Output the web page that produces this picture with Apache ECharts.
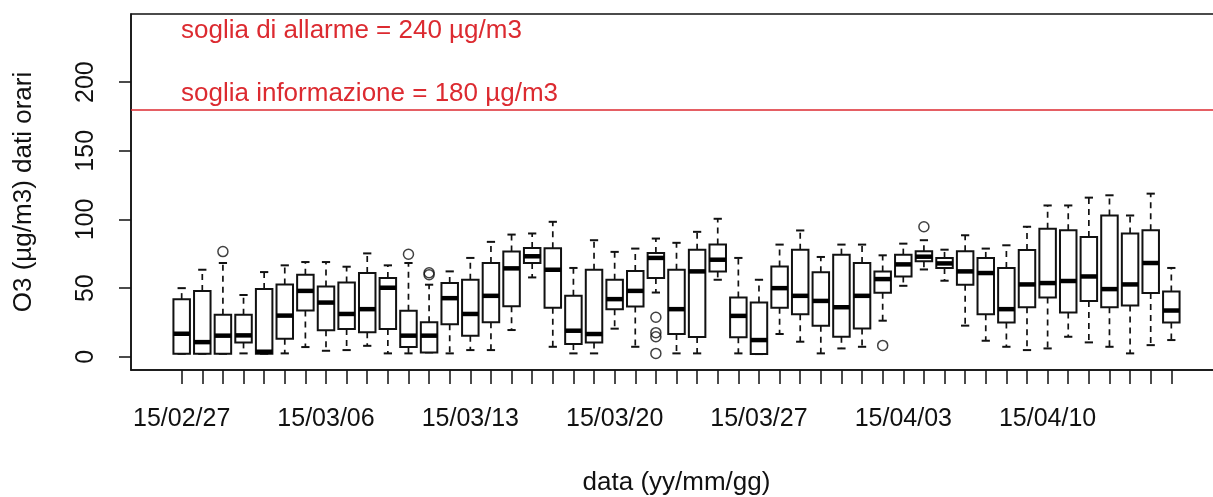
<!DOCTYPE html>
<html><head><meta charset="utf-8">
<script src="https://cdn.jsdelivr.net/npm/echarts@6/dist/echarts.min.js"></script>
<style>html,body{margin:0;padding:0;background:#fff}#c{width:1213px;height:497px}</style>
</head><body><div id="c"></div>
<script>
const dates = ['15/02/27','15/02/28','15/03/01','15/03/02','15/03/03','15/03/04','15/03/05','15/03/06','15/03/07','15/03/08',
  '15/03/09','15/03/10','15/03/11','15/03/12','15/03/13','15/03/14','15/03/15','15/03/16','15/03/17','15/03/18',
  '15/03/19','15/03/20','15/03/21','15/03/22','15/03/23','15/03/24','15/03/25','15/03/26','15/03/27','15/03/28',
  '15/03/29','15/03/30','15/03/31','15/04/01','15/04/02','15/04/03','15/04/04','15/04/05','15/04/06','15/04/07',
  '15/04/08','15/04/09','15/04/10','15/04/11','15/04/12','15/04/13','15/04/14','15/04/15','15/04/16'];
const whiskerLow = [2.2,2.2,2.2,2.5,2.2,2.5,7.1,4.4,4.9,8,2.5,2.5,3.2,2.5,4.9,4.9,19.5,57.8,7.3,2.5,
  2.5,20.5,7.3,46.8,2.5,2.5,56.1,2.5,2,16.6,11,2.5,6.1,7.3,26.3,51.7,63.6,55.4,22.7,11.7,
  7.3,4.9,6.1,14.6,10.5,7.3,2.5,8.5,12.2];
const q1 = [2.2,2.2,2.2,10.5,2.2,13.2,33.7,19.3,20.3,17.8,20.3,7.2,3.2,23.7,15.4,25.2,36.9,68.3,35.8,9.3,
  10.5,34.7,36.6,57.3,16.6,14.4,62.2,14.2,2,35.8,31,22.7,14.6,20.7,46.6,58.5,69.5,64.7,52.5,31,
  24.9,36.1,43.2,32.2,40.7,36.1,37.3,46.4,24.9];
const median = [16.8,10.7,15.4,15.6,3.7,30,48,39.5,31.2,34.7,50.3,15.4,15.4,42.7,31.2,44.4,64.4,73.2,63.4,19,
  16.6,42,48,72,34.7,62.2,70.7,29.8,12.2,50,44.4,40.7,36.1,44.4,56.6,67.3,72.9,68,62.2,61,
  34.7,52.7,53.7,55.2,58.5,49.3,52.7,68.3,33.7];
const q3 = [42,48,30.7,30.7,49.3,52.7,59.8,51.2,54.1,61,57.3,33.5,25.2,53.7,56.1,68.3,76.6,79.3,79,44.4,
  63.4,56.1,62.5,75.6,63.4,78,81.7,43.2,39.5,65.8,78,61.5,74.4,68.3,62.2,74.4,76.8,72,76.8,72,
  64.7,77.8,93.2,92.2,87.3,102.9,89.8,92.2,47.6];
const whiskerHigh = [50,63.4,68.3,45,61.7,66.6,69,69,65.6,75.3,66.6,68.3,52.5,62.2,72,83.7,89,89.8,98.3,64.7,
  84.9,76.4,78.8,86.1,83,91,100.5,72,56.1,81.7,92,72.7,81.7,81.7,73.9,82.4,84.9,78,88.5,78.8,
  81.2,94.7,110.2,110.2,115.9,117.6,102.9,118.8,64.7];
// outliers: [day number (1-based), value]
const outliers = [[3,76.6],[12,74.7],[13,59.8],[13,61.2],[24,28.8],[24,17.6],[24,14.6],[24,2.5],[35,8.3],[37,94.7]];
const yTicks = [0,50,100,150,200];
const xLabelDays = [1,8,15,22,29,36,43];
const infoThreshold = 180;
const alarmText = 'soglia di allarme = 240 µg/m3';
const infoText = 'soglia informazione = 180 µg/m3';

const FONT = 'Liberation Sans, Arial, sans-serif';
const INK = '#111';
const RED = '#dc2a30';

const dayNumbers = dates.map((d, i) => i + 1);
const boxData = dates.map((d, i) => [dayNumbers[i], whiskerLow[i], q1[i], median[i], q3[i], whiskerHigh[i]]);

function renderBox(params, api) {
  const x = api.value(0);
  const lo = api.coord([x, api.value(1)]);
  const b1 = api.coord([x, api.value(2)]);
  const md = api.coord([x, api.value(3)]);
  const b3 = api.coord([x, api.value(4)]);
  const hi = api.coord([x, api.value(5)]);
  const unit = api.size([1, 0])[0];
  const w = unit * 0.8, hw = w / 2, sw = w / 4;
  const cx = md[0];
  const dash = {stroke: INK, lineWidth: 1.7, lineDash: [6, 5]};
  const solid = {stroke: INK, lineWidth: 2};
  return {type: 'group', children: [
    {type: 'line', shape: {x1: cx, y1: b3[1], x2: cx, y2: hi[1]}, style: dash},
    {type: 'line', shape: {x1: cx, y1: b1[1], x2: cx, y2: lo[1]}, style: dash},
    {type: 'line', shape: {x1: cx - sw, y1: hi[1], x2: cx + sw, y2: hi[1]}, style: solid},
    {type: 'line', shape: {x1: cx - sw, y1: lo[1], x2: cx + sw, y2: lo[1]}, style: solid},
    {type: 'rect', shape: {x: cx - hw, y: b3[1], width: w, height: b1[1] - b3[1]}, style: {fill: '#fff', stroke: INK, lineWidth: 2}},
    {type: 'line', shape: {x1: cx - hw, y1: md[1], x2: cx + hw, y2: md[1]}, style: {stroke: '#000', lineWidth: 4.5}}
  ]};
}

const chart = echarts.init(document.getElementById('c'), null, {renderer: 'canvas'});
chart.setOption({
  animation: false,
  backgroundColor: '#fff',
  grid: {left: 131, top: 14, width: 1091, height: 356, show: true, borderColor: INK, borderWidth: 1.5,
    backgroundColor: 'transparent', containLabel: false, outerBoundsMode: 'none'},
  xAxis: {
    type: 'value', min: -1.458, max: 51.458,
    axisLine: {show: true, onZero: false, lineStyle: {color: INK, width: 1.5}},
    axisTick: {show: true, customValues: dayNumbers, length: 14, lineStyle: {color: INK, width: 1.5}},
    axisLabel: {customValues: xLabelDays, formatter: v => dates[Math.round(v) - 1], fontSize: 25, color: INK, margin: 37, fontFamily: FONT},
    splitLine: {show: false},
    name: 'data (yy/mm/gg)', nameLocation: 'middle', nameGap: 100,
    nameTextStyle: {fontSize: 26, color: INK, fontFamily: FONT}
  },
  yAxis: {
    type: 'value', min: -9.6, max: 249.6,
    axisLine: {show: true, onZero: false, lineStyle: {color: INK, width: 1.5}},
    axisTick: {show: true, customValues: yTicks, length: 12, lineStyle: {color: INK, width: 1.5}},
    axisLabel: {customValues: yTicks, rotate: 90, fontSize: 25, color: INK, margin: 32, fontFamily: FONT},
    splitLine: {show: false},
    name: 'O3 (µg/m3) dati orari', nameLocation: 'middle', nameGap: 94,
    nameTextStyle: {fontSize: 26, color: INK, fontFamily: FONT}
  },
  series: [
    {type: 'custom', renderItem: renderBox, data: boxData, encode: {x: 0, y: [1, 2, 3, 4, 5]}, z: 3},
    {type: 'scatter', data: outliers, symbol: 'circle', symbolSize: 10,
      itemStyle: {color: 'rgba(0,0,0,0)', borderColor: INK, borderWidth: 1.5}, z: 4,
      markLine: {silent: true, symbol: ['none', 'none'], label: {show: false},
        lineStyle: {color: RED, width: 1.6, type: 'solid'}, data: [{yAxis: infoThreshold}]}}
  ],
  graphic: [
    {type: 'text', x: 181, y: 31, style: {text: alarmText, fill: RED, font: '26px ' + FONT, align: 'left', verticalAlign: 'middle'}},
    {type: 'text', x: 181, y: 94.3, style: {text: infoText, fill: RED, font: '26px ' + FONT, align: 'left', verticalAlign: 'middle'}}
  ]
});
</script></body></html>
